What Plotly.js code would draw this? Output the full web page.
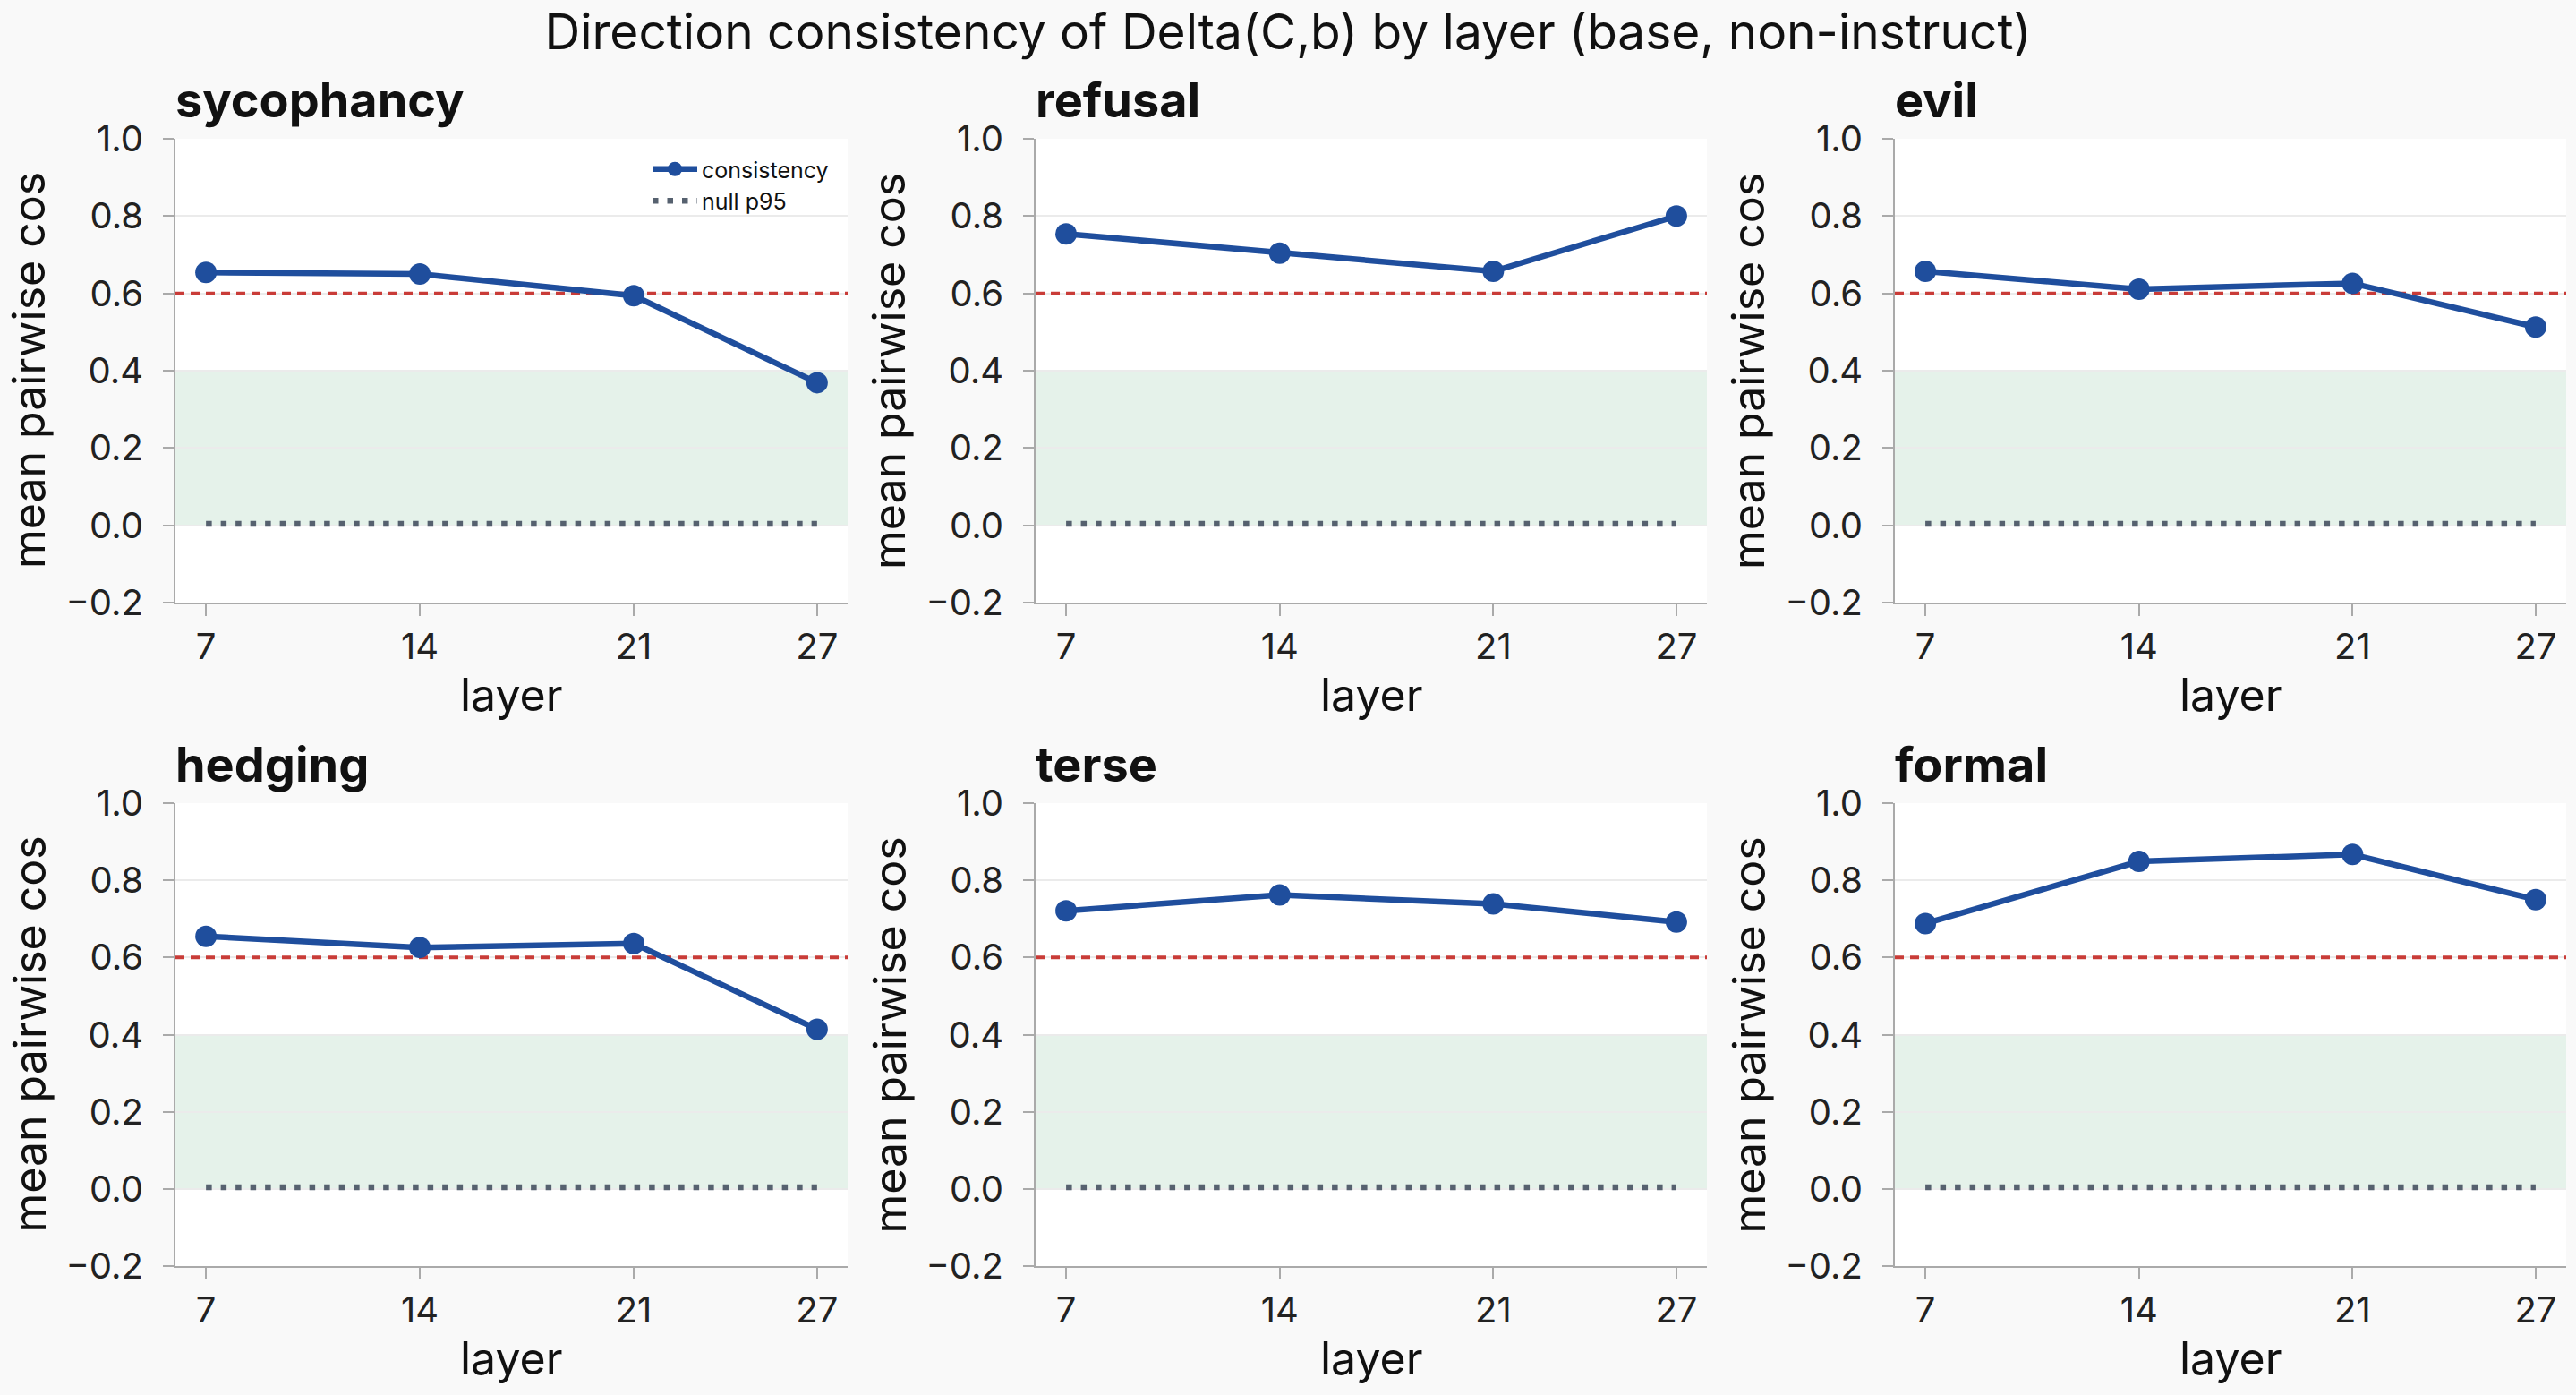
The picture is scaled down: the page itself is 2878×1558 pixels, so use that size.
<!DOCTYPE html>
<html>
<head>
<meta charset="utf-8">
<script src="https://cdn.plot.ly/plotly-3.0.1.min.js"></script>
<style>
  html, body { margin: 0; padding: 0; background: #f9f9f9; }
  #chart { width: 2878px; height: 1558px; }
</style>
</head>
<body>
<div id="chart"></div>
<script>
// Layers probed and mean pairwise cosine of Delta(C,b) per trait
const layers = [7, 14, 21, 27];
const traits = ['sycophancy', 'refusal', 'evil', 'hedging', 'terse', 'formal'];
const sycophancy = [0.654, 0.650, 0.594, 0.369];
const refusal    = [0.754, 0.704, 0.657, 0.800];
const evil       = [0.657, 0.611, 0.626, 0.513];
const hedging    = [0.655, 0.626, 0.636, 0.414];
const terse      = [0.721, 0.762, 0.739, 0.692];
const formal     = [0.688, 0.849, 0.867, 0.750];
// 95th percentile of the shuffled-null consistency
const nullP95    = [0.004, 0.004, 0.004, 0.004];

// Reference levels
const consistencyThreshold = 0.6;
const nullBand = [0.0, 0.4];
const yTicks = [-0.2, 0.0, 0.2, 0.4, 0.6, 0.8, 1.0];
const yRange = [-0.2, 1.0];
const xRange = [6, 28];

const series = [sycophancy, refusal, evil, hedging, terse, formal];

const W = 2878, H = 1558;
const FONT = 'Inter, "Noto Sans", "DejaVu Sans", sans-serif';
const BLUE = '#1f4e9d';

// panel geometry in pixels
const colPx = [[196, 947], [1157, 1907], [2117, 2867]];
const rowPx = [[155, 673], [897, 1414]];

const data = [];
const shapes = [];
const annotations = [];
const layout = {
  width: W, height: H,
  margin: { l: 0, r: 0, t: 0, b: 0 },
  paper_bgcolor: '#f9f9f9',
  plot_bgcolor: '#ffffff',
  font: { family: FONT, color: '#222222' },
  title: {
    text: 'Direction consistency of Delta(C,b) by layer (base, non-instruct)',
    font: { family: FONT, size: 55, color: '#111111' },
    x: 0.5, xanchor: 'center', xref: 'paper',
    y: 1 - 36 / H, yanchor: 'middle', yref: 'container'
  },
  showlegend: true,
  legend: {
    x: 724 / W, y: 1 - 166 / H, xanchor: 'left', yanchor: 'top',
    bgcolor: 'rgba(0,0,0,0)', borderwidth: 0,
    font: { family: FONT, size: 25, color: '#111111' },
    itemwidth: 50
  },
  shapes: shapes,
  annotations: annotations
};

traits.forEach((name, i) => {
  const row = Math.floor(i / 3), col = i % 3;
  const n = i === 0 ? '' : String(i + 1);
  const xa = 'x' + n, ya = 'y' + n;
  const [c0, c1] = colPx[col];
  const [r0, r1] = rowPx[row];

  layout['xaxis' + n] = {
    domain: [c0 / W, c1 / W],
    anchor: ya,
    range: xRange,
    tickvals: layers,
    ticktext: layers.map(String),
    showgrid: false, zeroline: false,
    showline: true, linecolor: '#aaaaaa', linewidth: 2,
    ticks: 'outside', ticklen: 13, tickwidth: 2, tickcolor: '#aaaaaa',
    ticklabelstandoff: 0,
    tickfont: { family: FONT, size: 40, color: '#222222' },
    fixedrange: true
  };
  layout['yaxis' + n] = {
    domain: [1 - r1 / H, 1 - r0 / H],
    anchor: xa,
    range: yRange,
    tickvals: yTicks,
    tickformat: '.1f',
    showgrid: true, gridcolor: '#ebebeb', gridwidth: 2,
    zeroline: false,
    showline: true, linecolor: '#aaaaaa', linewidth: 2,
    ticks: 'outside', ticklen: 12, tickwidth: 2, tickcolor: '#aaaaaa',
    ticklabelstandoff: 14,
    tickfont: { family: FONT, size: 40, color: '#222222' },
    fixedrange: true
  };

  // band around the null level
  shapes.push({
    type: 'rect', xref: xa, yref: ya,
    x0: xRange[0], x1: xRange[1], y0: nullBand[0], y1: nullBand[1],
    fillcolor: '#e5f2ea', line: { width: 0 }, layer: 'below'
  });

  // consistency threshold across the panel
  data.push({
    type: 'scatter', mode: 'lines',
    x: xRange, y: [consistencyThreshold, consistencyThreshold],
    xaxis: xa, yaxis: ya,
    showlegend: false,
    line: { color: '#c93c38', width: 4, dash: '10px,7px' },
    hoverinfo: 'skip'
  });
  data.push({
    type: 'scatter', mode: 'lines',
    x: layers, y: nullP95,
    xaxis: xa, yaxis: ya,
    name: 'null p95', legendrank: 2,
    showlegend: i === 0,
    line: { color: '#56616f', width: 6.5, dash: '6.5px,10px' },
    hoverinfo: 'skip'
  });
  data.push({
    type: 'scatter', mode: 'lines+markers',
    x: layers, y: series[i],
    xaxis: xa, yaxis: ya,
    name: 'consistency', legendrank: 1,
    showlegend: i === 0,
    line: { color: BLUE, width: 6.5 },
    marker: { color: BLUE, size: 24 }
  });

  // panel title
  annotations.push({
    text: '<b>' + name + '</b>',
    xref: 'paper', yref: 'paper',
    x: (c0 - 2) / W, xanchor: 'left',
    y: 1 - (r0 - 44) / H, yanchor: 'middle',
    showarrow: false,
    font: { family: FONT, size: 54, color: '#111111' }
  });
  // x axis title
  annotations.push({
    text: 'layer',
    xref: 'paper', yref: 'paper',
    x: (c0 + c1) / 2 / W, xanchor: 'center',
    y: 1 - (r1 + 103) / H, yanchor: 'middle',
    showarrow: false,
    font: { family: FONT, size: 50, color: '#111111' }
  });
  // y axis title
  annotations.push({
    text: 'mean pairwise cos',
    xref: 'paper', yref: 'paper',
    x: (c0 - 164) / W, xanchor: 'center',
    y: 1 - (r0 + r1) / 2 / H, yanchor: 'middle',
    textangle: -90,
    showarrow: false,
    font: { family: FONT, size: 50, color: '#111111' }
  });
});

Plotly.newPlot('chart', data, layout, { displayModeBar: false, staticPlot: true });
</script>
</body>
</html>
